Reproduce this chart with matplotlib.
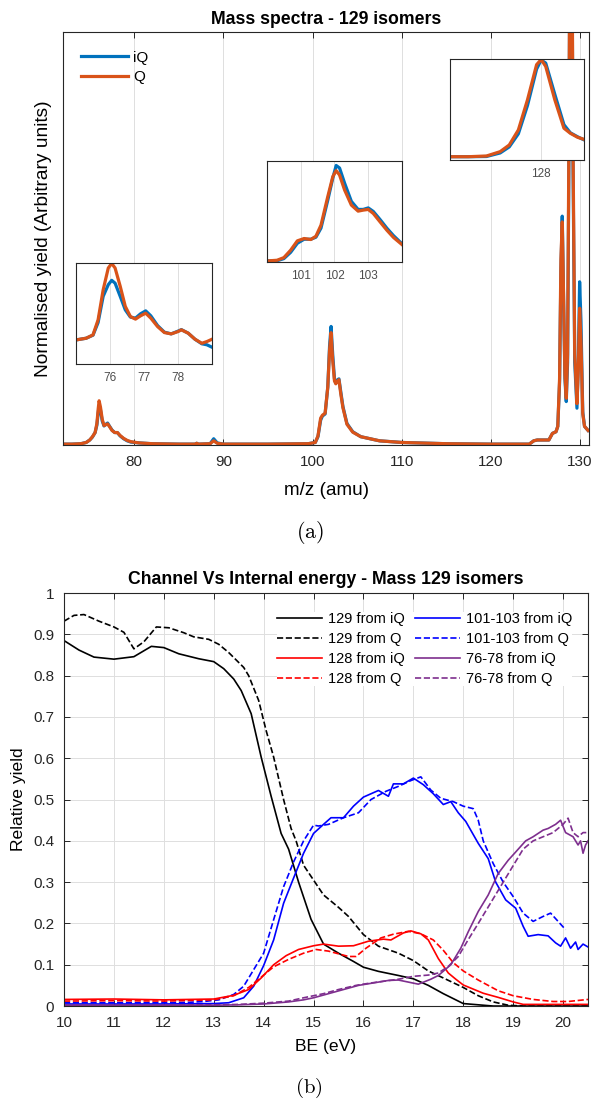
import matplotlib.pyplot as plt

plt.rcParams['font.family'] = ['Liberation Sans', 'DejaVu Sans']
plt.rcParams['mathtext.fontset'] = 'cm'

# ---- (a) mass spectrum (y in axis fraction) ----
spec_mz = [72.0, 73.0, 74.0, 74.6, 75.0, 75.3, 75.6, 75.8, 75.95, 76.05,
           76.2, 76.4, 76.6, 76.8, 77.0, 77.2, 77.5, 77.8, 78.1, 78.4,
           78.8, 79.2, 79.6, 80.5, 82.0, 85.0, 86.8, 87.0, 87.2, 88.5,
           88.9, 89.3, 90.0, 95.0, 99.5, 100.3, 100.6, 100.9, 101.1, 101.4,
           101.7, 101.9, 102.07, 102.25, 102.45, 102.6, 102.8, 102.95, 103.15, 103.4,
           103.85, 104.5, 105.4, 107.5, 110.0, 115.0, 120.0, 124.3, 124.8, 125.2,
           126.5, 126.9, 127.3, 127.5, 127.7, 127.85, 128.0, 128.15, 128.3, 128.45,
           128.6, 128.75, 128.9, 129.05, 129.2, 129.4, 129.65, 129.8, 129.95, 130.1,
           130.3, 130.5, 130.9]
spec_iq = [0.002, 0.002, 0.003, 0.006, 0.012, 0.019, 0.03, 0.048, 0.078, 0.095,
           0.085, 0.058, 0.046, 0.05, 0.053, 0.046, 0.036, 0.03, 0.03, 0.022,
           0.015, 0.01, 0.007, 0.005, 0.003, 0.002, 0.002, 0.004, 0.002, 0.003,
           0.015, 0.005, 0.002, 0.002, 0.003, 0.006, 0.02, 0.06, 0.07, 0.075,
           0.14, 0.24, 0.287, 0.22, 0.16, 0.15, 0.158, 0.16, 0.13, 0.093,
           0.052, 0.032, 0.02, 0.01, 0.006, 0.003, 0.002, 0.002, 0.01, 0.012,
           0.012, 0.028, 0.032, 0.045, 0.15, 0.42, 0.554, 0.35, 0.16, 0.105,
           0.2, 0.7, 1.4, 1.4, 0.7, 0.2, 0.089, 0.2, 0.395, 0.3,
           0.08, 0.045, 0.035]
spec_q = [0.002, 0.002, 0.003, 0.006, 0.012, 0.02, 0.03, 0.052, 0.088, 0.107,
          0.092, 0.062, 0.047, 0.049, 0.051, 0.045, 0.035, 0.03, 0.03, 0.023,
          0.016, 0.011, 0.008, 0.005, 0.003, 0.002, 0.002, 0.004, 0.002, 0.003,
          0.01, 0.004, 0.002, 0.002, 0.003, 0.006, 0.022, 0.065, 0.072, 0.077,
          0.14, 0.23, 0.272, 0.205, 0.155, 0.148, 0.155, 0.158, 0.125, 0.09,
          0.05, 0.031, 0.02, 0.01, 0.006, 0.003, 0.002, 0.002, 0.01, 0.012,
          0.012, 0.028, 0.032, 0.045, 0.16, 0.45, 0.54, 0.36, 0.17, 0.113,
          0.22, 0.75, 1.45, 1.45, 0.75, 0.22, 0.1, 0.18, 0.331, 0.25,
          0.075, 0.045, 0.035]

# insets (y in inset-box fraction)
ins1_mz = [75.0, 75.3, 75.5, 75.65, 75.8, 75.95, 76.05, 76.15, 76.3, 76.45,
           76.6, 76.75, 76.9, 77.05, 77.2, 77.4, 77.6, 77.8, 78.0, 78.1,
           78.3, 78.5, 78.7, 78.85, 79.0]
ins1_iq = [0.238, 0.255, 0.285, 0.41, 0.67, 0.785, 0.828, 0.80, 0.67, 0.536,
           0.464, 0.454, 0.497, 0.526, 0.477, 0.38, 0.315, 0.298, 0.325, 0.34,
           0.305, 0.245, 0.2, 0.19, 0.166]
ins1_q = [0.238, 0.255, 0.288, 0.437, 0.735, 0.95, 0.995, 0.95, 0.77, 0.57,
          0.47, 0.444, 0.477, 0.503, 0.454, 0.37, 0.311, 0.298, 0.321, 0.338,
          0.305, 0.245, 0.205, 0.222, 0.245]

ins2_mz = [100.0, 100.3, 100.5, 100.7, 100.9, 101.1, 101.3, 101.45, 101.6, 101.8,
           101.95, 102.05, 102.15, 102.3, 102.5, 102.7, 102.85, 103.0, 103.15, 103.35,
           103.55, 103.75, 104.0]
ins2_iq = [0.01, 0.012, 0.033, 0.095, 0.185, 0.225, 0.225, 0.245, 0.335, 0.61,
           0.83, 0.955, 0.93, 0.78, 0.60, 0.52, 0.52, 0.535, 0.50, 0.42,
           0.335, 0.26, 0.18]
ins2_q = [0.01, 0.017, 0.043, 0.116, 0.209, 0.232, 0.222, 0.255, 0.364, 0.645,
          0.844, 0.904, 0.861, 0.712, 0.563, 0.503, 0.513, 0.52, 0.48, 0.397,
          0.315, 0.242, 0.172]

ins3_mz = [127.0, 127.2, 127.4, 127.55, 127.65, 127.75, 127.85, 127.95, 128.0, 128.05,
           128.15, 128.25, 128.32, 128.4, 128.47]
ins3_iq = [0.033, 0.033, 0.035, 0.07, 0.13, 0.26, 0.54, 0.90, 0.99, 0.96,
           0.65, 0.35, 0.27, 0.23, 0.20]
ins3_q = [0.033, 0.033, 0.04, 0.083, 0.149, 0.298, 0.596, 0.944, 0.995, 0.927,
          0.596, 0.315, 0.265, 0.225, 0.205]

# ---- (b) channel yields vs binding energy ----
be_129_iq = [10.0, 10.3, 10.6, 11.0, 11.4, 11.75, 12.0, 12.3, 12.7, 13.0,
             13.2, 13.4, 13.55, 13.75, 13.95, 14.15, 14.35, 14.5, 14.7, 14.95,
             15.2, 15.5, 15.8, 16.0, 16.3, 16.7, 17.0, 17.3, 17.6, 17.8,
             18.0, 18.3, 18.6, 20.5]
y_129_iq = [0.885, 0.862, 0.845, 0.840, 0.846, 0.871, 0.868, 0.853, 0.841, 0.834,
            0.817, 0.792, 0.764, 0.708, 0.603, 0.508, 0.418, 0.38, 0.30, 0.21,
            0.15, 0.128, 0.108, 0.094, 0.084, 0.074, 0.066, 0.05, 0.03, 0.018,
            0.006, 0.003, 0.0, 0.0]
be_129_q = [10.0, 10.2, 10.4, 10.7, 11.0, 11.2, 11.4, 11.6, 11.85, 12.1,
            12.4, 12.6, 12.9, 13.1, 13.3, 13.6, 13.7, 13.9, 14.05, 14.2,
            14.4, 14.55, 14.65, 14.8, 15.0, 15.2, 15.5, 15.7, 16.0, 16.3,
            16.7, 17.0, 17.3, 17.6, 18.0, 18.3, 18.6, 18.9, 19.2, 20.5]
y_129_q = [0.932, 0.946, 0.948, 0.932, 0.918, 0.905, 0.865, 0.882, 0.918, 0.916,
           0.904, 0.894, 0.888, 0.876, 0.856, 0.82, 0.80, 0.74, 0.667, 0.603,
           0.50, 0.43, 0.40, 0.341, 0.305, 0.269, 0.239, 0.217, 0.173, 0.145,
           0.128, 0.11, 0.085, 0.068, 0.045, 0.025, 0.01, 0.002, 0.0, 0.0]

be_128_iq = [10, 11, 12, 13, 13.4, 13.7, 13.95, 14.2, 14.45, 14.7,
             15.0, 15.2, 15.5, 15.8, 16.1, 16.4, 16.55, 16.8, 16.95, 17.15,
             17.3, 17.5, 17.7, 17.85, 18.0, 18.4, 18.7, 19.0, 19.2, 20.5]
y_128_iq = [0.016, 0.017, 0.015, 0.017, 0.026, 0.04, 0.068, 0.1, 0.122, 0.137,
            0.146, 0.15, 0.145, 0.146, 0.157, 0.162, 0.16, 0.177, 0.182, 0.175,
            0.16, 0.115, 0.08, 0.065, 0.051, 0.031, 0.021, 0.01, 0.004, 0.004]
be_128_q = [10, 11, 12, 13, 13.4, 13.7, 13.95, 14.2, 14.5, 14.8,
            15.05, 15.3, 15.7, 15.85, 16.05, 16.35, 16.6, 16.9, 17.15, 17.4,
            17.6, 17.8, 18.0, 18.3, 18.7, 19.0, 19.4, 19.8, 20.1, 20.5]
y_128_q = [0.012, 0.013, 0.012, 0.015, 0.025, 0.045, 0.07, 0.095, 0.113, 0.128,
           0.137, 0.133, 0.12, 0.12, 0.14, 0.165, 0.174, 0.181, 0.175, 0.16,
           0.135, 0.105, 0.085, 0.063, 0.037, 0.025, 0.016, 0.011, 0.011, 0.016]

be_101_iq = [10, 11, 12, 13, 13.3, 13.6, 13.8, 14.0, 14.2, 14.4,
             14.6, 14.8, 15.0, 15.2, 15.35, 15.6, 15.8, 16.0, 16.3, 16.5,
             16.6, 16.8, 17.0, 17.2, 17.4, 17.6, 17.75, 17.9, 18.05, 18.3,
             18.5, 18.65, 18.85, 19.05, 19.2, 19.3, 19.5, 19.7, 19.85, 19.95,
             20.05, 20.15, 20.25, 20.3, 20.4, 20.5]
y_101_iq = [0.005, 0.005, 0.005, 0.006, 0.008, 0.02, 0.048, 0.098, 0.16, 0.249,
            0.31, 0.37, 0.418, 0.44, 0.456, 0.456, 0.484, 0.506, 0.522, 0.508,
            0.538, 0.538, 0.552, 0.536, 0.514, 0.488, 0.495, 0.468, 0.447, 0.394,
            0.357, 0.30, 0.257, 0.237, 0.193, 0.169, 0.173, 0.17, 0.153, 0.145,
            0.165, 0.14, 0.155, 0.137, 0.15, 0.143]
be_101_q = [10, 11, 12, 12.5, 12.8, 13.1, 13.4, 13.6, 13.8, 14.0,
            14.2, 14.4, 14.6, 14.8, 15.0, 15.1, 15.3, 15.6, 15.9, 16.15,
            16.45, 16.7, 16.95, 17.15, 17.35, 17.55, 17.8, 18.0, 18.2, 18.3,
            18.4, 18.6, 18.8, 19.0, 19.2, 19.4, 19.6, 19.75, 19.9, 20.05]
y_101_q = [0.008, 0.008, 0.008, 0.009, 0.011, 0.015, 0.028, 0.048, 0.088, 0.128,
           0.209, 0.289, 0.349, 0.40, 0.438, 0.436, 0.44, 0.456, 0.468, 0.50,
           0.52, 0.532, 0.546, 0.555, 0.523, 0.503, 0.495, 0.484, 0.478, 0.45,
           0.40, 0.345, 0.30, 0.265, 0.225, 0.205, 0.217, 0.225, 0.205, 0.185]

be_76_iq = [10, 12, 13, 13.5, 14.0, 14.5, 14.8, 15.0, 15.3, 15.6,
            15.9, 16.2, 16.5, 16.7, 16.9, 17.1, 17.35, 17.5, 17.75, 17.95,
            18.1, 18.3, 18.5, 18.7, 18.9, 19.05, 19.25, 19.4, 19.6, 19.7,
            19.85, 19.95, 20.05, 20.2, 20.3, 20.35, 20.4, 20.45, 20.5]
y_76_iq = [0.002, 0.002, 0.002, 0.003, 0.005, 0.01, 0.015, 0.02, 0.03, 0.04,
           0.05, 0.056, 0.062, 0.063, 0.058, 0.053, 0.065, 0.074, 0.10, 0.14,
           0.18, 0.229, 0.269, 0.321, 0.353, 0.373, 0.40, 0.41, 0.426, 0.43,
           0.44, 0.45, 0.42, 0.41, 0.39, 0.40, 0.37, 0.39, 0.40]
be_76_q = [10, 12, 13, 13.5, 14.0, 14.5, 14.8, 15.2, 15.5, 15.85,
           16.1, 16.4, 16.7, 17.0, 17.3, 17.5, 17.7, 17.9, 18.1, 18.3,
           18.55, 18.8, 19.0, 19.2, 19.4, 19.6, 19.8, 20.0, 20.1, 20.2,
           20.3, 20.4, 20.5]
y_76_q = [0.002, 0.002, 0.003, 0.004, 0.007, 0.012, 0.02, 0.03, 0.04, 0.05,
          0.055, 0.06, 0.065, 0.072, 0.075, 0.08, 0.096, 0.12, 0.161, 0.20,
          0.25, 0.30, 0.34, 0.38, 0.40, 0.41, 0.42, 0.44, 0.455, 0.42,
          0.41, 0.42, 0.42]

c_iq = '#0072BD'
c_q = '#D95319'
purple = '#7E2F8E'
axcol = '#262626'
gridcol = '#dedede'

fig = plt.figure(figsize=(5.95, 11.03), dpi=100)


def style_axes(ax):
    for s in ax.spines.values():
        s.set_color(axcol)
        s.set_linewidth(0.8)
    ax.tick_params(direction='in', top=True, right=True, length=4, width=0.7,
                   colors=axcol, labelsize=11, pad=7)


# ---------- panel (a) ----------
ax1 = fig.add_axes([0.1059, 0.5966, 0.884, 0.3744])
ax1.plot(spec_mz, spec_iq, color=c_iq, lw=2.3, label='iQ')
ax1.plot(spec_mz, spec_q, color=c_q, lw=2.3, label='Q')
ax1.set_xlim(72, 131)
ax1.set_ylim(0, 1)
ax1.set_xticks(range(80, 131, 10))
ax1.set_yticks([])
ax1.grid(axis='x', color=gridcol, lw=0.7)
style_axes(ax1)
ax1.set_xlabel('m/z (amu)', fontsize=13.6)
ax1.xaxis.set_label_coords(0.5, -0.09)
ax1.set_ylabel('Normalised yield (Arbitrary units)', fontsize=13.8)
ax1.yaxis.set_label_coords(-0.021, 0.5)
ax1.set_title('Mass spectra - 129 isomers', fontsize=12.7, fontweight='bold', pad=6)
ax1.legend(loc='upper left', bbox_to_anchor=(0.034, 0.955), frameon=False,
           fontsize=11, handlelength=3.1, handletextpad=0.3, labelspacing=0.35,
           borderpad=0, borderaxespad=0)

insets = [
    ([0.1277, 0.6700, 0.2286, 0.0916], ins1_mz, ins1_iq, ins1_q, (75, 79), [76, 77, 78]),
    ([0.4487, 0.7625, 0.2269, 0.0916], ins2_mz, ins2_iq, ins2_q, (100, 104), [101, 102, 103]),
    ([0.7563, 0.8549, 0.2252, 0.0916], ins3_mz, ins3_iq, ins3_q, (127, 128.47), [128]),
]
for rect, mz, iq, q, xl, ticks in insets:
    ia = fig.add_axes(rect)
    ia.plot(mz, iq, color=c_iq, lw=2.3)
    ia.plot(mz, q, color=c_q, lw=2.3)
    ia.set_xlim(*xl)
    ia.set_ylim(0, 1)
    ia.set_xticks(ticks)
    ia.set_yticks([])
    ia.grid(axis='x', color=gridcol, lw=0.7)
    for s in ia.spines.values():
        s.set_color(axcol)
        s.set_linewidth(0.8)
    ia.tick_params(direction='in', length=0, labelsize=8.5, colors='#4d4d4d', pad=6)

fig.text(310 / 595, 1 - 533 / 1103, r'$\mathrm{(a)}$', ha='center', va='center', fontsize=16)

# ---------- panel (b) ----------
ax2 = fig.add_axes([0.1076, 0.0879, 0.8807, 0.3744])
l1, = ax2.plot(be_129_iq, y_129_iq, color='k', lw=1.2, label='129 from iQ')
l2, = ax2.plot(be_129_q, y_129_q, color='k', lw=1.2, ls='--', label='129 from Q')
l5, = ax2.plot(be_101_iq, y_101_iq, color='b', lw=1.2, label='101-103 from iQ')
l6, = ax2.plot(be_101_q, y_101_q, color='b', lw=1.2, ls='--', label='101-103 from Q')
l3, = ax2.plot(be_128_iq, y_128_iq, color='r', lw=1.2, label='128 from iQ')
l4, = ax2.plot(be_128_q, y_128_q, color='r', lw=1.2, ls='--', label='128 from Q')
l7, = ax2.plot(be_76_iq, y_76_iq, color=purple, lw=1.2, label='76-78 from iQ')
l8, = ax2.plot(be_76_q, y_76_q, color=purple, lw=1.2, ls='--', label='76-78 from Q')
ax2.set_xlim(10, 20.5)
ax2.set_ylim(0, 1)
ax2.set_xticks(range(10, 21))
ax2.set_yticks([i / 10 for i in range(11)])
ax2.set_yticklabels(['0', '0.1', '0.2', '0.3', '0.4', '0.5', '0.6', '0.7', '0.8', '0.9', '1'])
ax2.grid(color=gridcol, lw=0.7)
style_axes(ax2)
ax2.set_xlabel('BE (eV)', fontsize=12.6)
ax2.xaxis.set_label_coords(0.5, -0.081)
ax2.set_ylabel('Relative yield', fontsize=12.6)
ax2.yaxis.set_label_coords(-0.073, 0.5)
ax2.set_title('Channel Vs Internal energy - Mass 129 isomers', fontsize=12.7,
              fontweight='bold', pad=6.5)
leg = ax2.legend(handles=[l1, l2, l3, l4, l5, l6, l7, l8], ncol=2,
                 loc='upper left', bbox_to_anchor=(0.4065, 0.955), frameon=True,
                 fontsize=10.5, handlelength=3.1, handletextpad=0.4,
                 columnspacing=0.7, labelspacing=0.42, borderpad=0, borderaxespad=0)
leg.get_frame().set_edgecolor('none')
leg.get_frame().set_facecolor('white')
leg.get_frame().set_alpha(1)

fig.text(309 / 595, 1 - 1088 / 1103, r'$\mathrm{(b)}$', ha='center', va='center', fontsize=15)

fig.savefig('out.png', dpi=100)
